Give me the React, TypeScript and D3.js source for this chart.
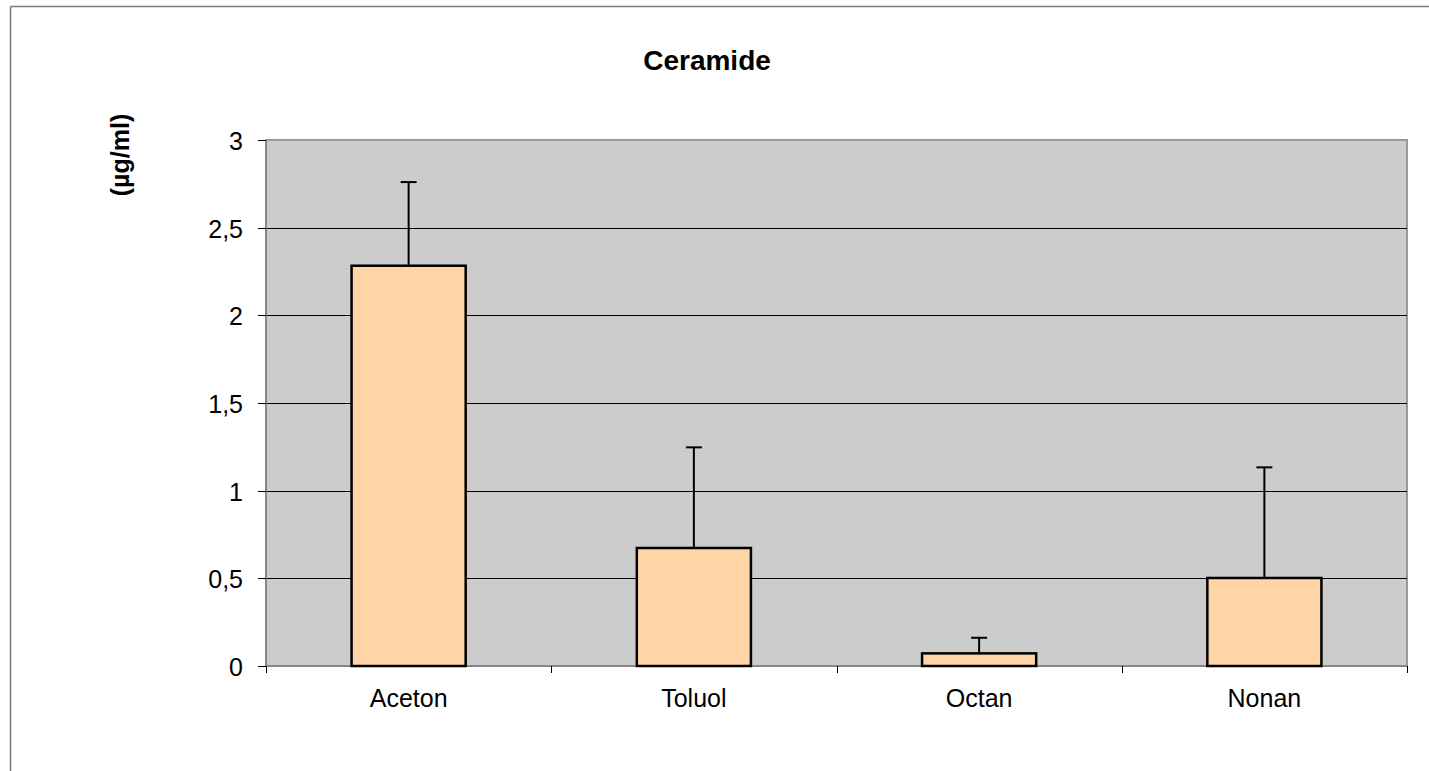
import React from "react";
import * as d3 from "d3";

const categories = ["Aceton", "Toluol", "Octan", "Nonan"];
const values = [2.283, 0.673, 0.072, 0.502];
const errors = [0.477, 0.574, 0.089, 0.631];
const yTicks = [0, 0.5, 1, 1.5, 2, 2.5, 3];
const title = "Ceramide";
const yLabel = "(µg/ml)";

export default function App() {
  const W = 1429, H = 771;
  const left = 266, right = 1407, top = 140, bottom = 666;
  const x = d3.scaleBand<string>().domain(categories).range([left, right]).paddingInner(0.6).paddingOuter(0.3);
  const xOuter = d3.scaleBand<string>().domain(categories).range([left, right]);
  const y = d3.scaleLinear().domain([0, 3]).range([bottom, top]);
  const fmt = (v: number) => String(v).replace(".", ",");
  const font = "'Liberation Sans', Arial, sans-serif";
  const bw = x.bandwidth();
  return (
    <svg width={W} height={H} style={{ position: "absolute", left: 0, top: 0, overflow: "hidden" }} fontFamily={font}>
      <rect x={0} y={0} width={W} height={H} fill="#fff" />
      <line x1={10.5} x2={W} y1={6.5} y2={6.5} stroke="#7a7a7a" strokeWidth={1.5} />
      <line x1={10.5} x2={10.5} y1={6.5} y2={H} stroke="#7a7a7a" strokeWidth={1.5} />
      <text x={707} y={70} textAnchor="middle" fontSize={28} fontWeight="bold">{title}</text>
      <text transform={`translate(129,155) rotate(-90)`} textAnchor="middle" fontSize={25} fontWeight="bold">{yLabel}</text>
      <rect x={left} y={top} width={right - left} height={bottom - top} fill="#cccccc" stroke="#999" strokeWidth={2} />
      {yTicks.filter(t => t > 0 && t < 3).map(t => (
        <line key={t} x1={left} x2={right} y1={Math.round(y(t)) + 0.5} y2={Math.round(y(t)) + 0.5} stroke="#000" strokeWidth={1} />
      ))}
      <line x1={left} x2={left} y1={top} y2={bottom} stroke="#808080" strokeWidth={1.5} />
      <line x1={left} x2={right} y1={bottom} y2={bottom} stroke="#808080" strokeWidth={1.5} />
      {yTicks.map(t => (
        <g key={t}>
          <line x1={left - 8} x2={left} y1={Math.round(y(t)) + 0.5} y2={Math.round(y(t)) + 0.5} stroke="#000" />
          <text x={243} y={y(t) + 10} textAnchor="end" fontSize={25}>{fmt(t)}</text>
        </g>
      ))}
      {categories.map((c) => (
        <line key={"t" + c} x1={Math.round(xOuter(c)!) + 0.5} x2={Math.round(xOuter(c)!) + 0.5} y1={bottom} y2={bottom + 7} stroke="#000" />
      ))}
      <line x1={right + 0.5} x2={right + 0.5} y1={bottom} y2={bottom + 7} stroke="#000" />
      {categories.map((c, i) => {
        const cx = x(c)! + bw / 2;
        return (
          <g key={c}>
            <line x1={cx} x2={cx} y1={y(values[i])} y2={y(values[i] + errors[i])} stroke="#000" strokeWidth={2} />
            <line x1={cx - 8} x2={cx + 8} y1={y(values[i] + errors[i])} y2={y(values[i] + errors[i])} stroke="#000" strokeWidth={2} />
            <rect x={x(c)!} y={y(values[i])} width={bw} height={bottom - y(values[i])} fill="#ffd5a8" stroke="#000" strokeWidth={2.5} />
            <text x={cx} y={707} textAnchor="middle" fontSize={25}>{c}</text>
          </g>
        );
      })}
    </svg>
  );
}
